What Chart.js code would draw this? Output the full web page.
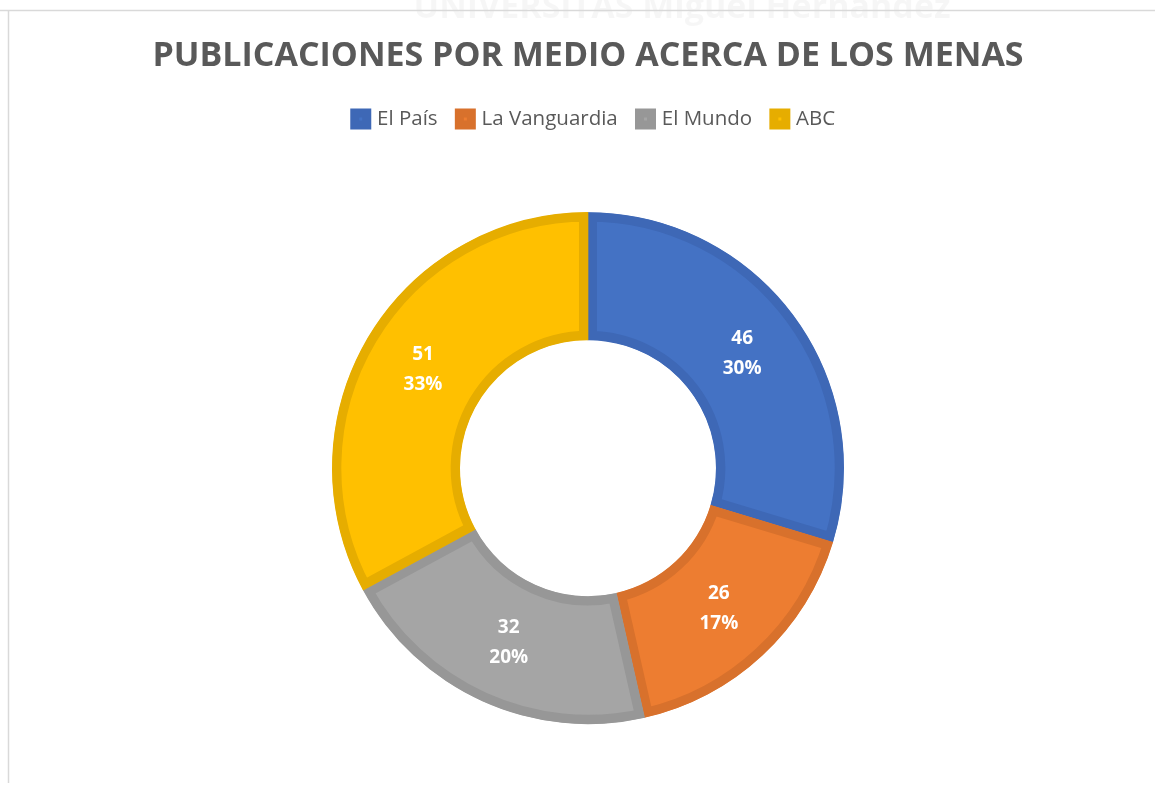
<!DOCTYPE html>
<html>
<head>
<meta charset="utf-8">
<script src="https://cdn.jsdelivr.net/npm/chart.js@4/dist/chart.umd.min.js"></script>
<style>
  html, body { margin: 0; padding: 0; background: #ffffff; }
  #wrap { width: 1155px; height: 785px; position: relative; }
</style>
</head>
<body>
<div id="wrap"><canvas id="c" width="1155" height="785"></canvas></div>
<script>
const categories = ['El País', 'La Vanguardia', 'El Mundo', 'ABC'];
const values = [46, 26, 32, 51];
const percentLabels = ['30%', '17%', '20%', '33%'];
const fillColors = ['#4472C4', '#ED7D31', '#A5A5A5', '#FFC000'];
const borderColors = ['#3E68B6', '#D8712C', '#979797', '#E6AD00'];
const titleText = 'PUBLICACIONES POR MEDIO ACERCA DE LOS MENAS';

const framePlugin = {
  id: 'frame',
  afterInit(chart) {
    const lg = chart.legend;
    if (lg) {
      const origFit = lg.fit.bind(lg);
      lg.fit = function () { origFit(); this.height += 12; };
      const origDraw = lg.draw.bind(lg);
      lg.draw = function () {
        const ctx = this.ctx;
        ctx.save();
        ctx.translate(7, 0);
        origDraw();
        ctx.restore();
      };
    }
  },
  beforeDraw(chart) {
    const ctx = chart.ctx;
    ctx.save();
    ctx.fillStyle = '#ffffff';
    ctx.fillRect(0, 0, chart.width, chart.height);
    // faint watermark
    ctx.fillStyle = 'rgba(0,0,0,0.035)';
    ctx.font = 'bold 34px "Open Sans"';
    ctx.textAlign = 'center';
    ctx.textBaseline = 'alphabetic';
    ctx.fillText('UNIVERSITAS Miguel Hernández', 682, 18);
    // frame lines
    ctx.strokeStyle = '#d9d9d9';
    ctx.lineWidth = 1.5;
    ctx.beginPath();
    ctx.moveTo(0, 10.5);
    ctx.lineTo(chart.width, 10.5);
    ctx.moveTo(8.5, 10.5);
    ctx.lineTo(8.5, chart.height - 2);
    ctx.stroke();
    ctx.restore();
  }
};

const labelPlugin = {
  id: 'sliceLabels',
  afterDatasetsDraw(chart) {
    const ctx = chart.ctx;
    const meta = chart.getDatasetMeta(0);
    ctx.save();
    ctx.fillStyle = '#ffffff';
    ctx.font = 'bold 19px "Open Sans"';
    ctx.textAlign = 'center';
    ctx.textBaseline = 'middle';
    meta.data.forEach((arc, i) => {
      const p = arc.getCenterPoint();
      ctx.fillText(String(chart.data.datasets[0].data[i]), p.x, p.y - 15);
      ctx.fillText(percentLabels[i], p.x, p.y + 15);
    });
    ctx.restore();
  }
};

new Chart(document.getElementById('c'), {
  type: 'doughnut',
  data: {
    labels: categories,
    datasets: [{
      data: values,
      backgroundColor: fillColors,
      borderColor: borderColors,
      borderWidth: 9,
      borderAlign: 'inner',
      radius: 256
    }]
  },
  options: {
    responsive: false,
    animation: false,
    cutout: '50%',
    layout: { padding: { left: 21, right: 0, top: 0, bottom: 0 } },
    plugins: {
      title: {
        display: true,
        text: titleText,
        color: '#595959',
        font: { family: 'Open Sans', size: 34, weight: 'bold', lineHeight: 1.2 },
        padding: { top: 35.6, bottom: 10.6 }
      },
      legend: {
        display: true,
        position: 'top',
        labels: {
          color: '#595959',
          font: { family: 'Open Sans', size: 20.5 },
          boxWidth: 12,
          boxHeight: 12,
          padding: 21.75
        }
      },
      tooltip: { enabled: false }
    }
  },
  plugins: [framePlugin, labelPlugin]
});
</script>
</body>
</html>
